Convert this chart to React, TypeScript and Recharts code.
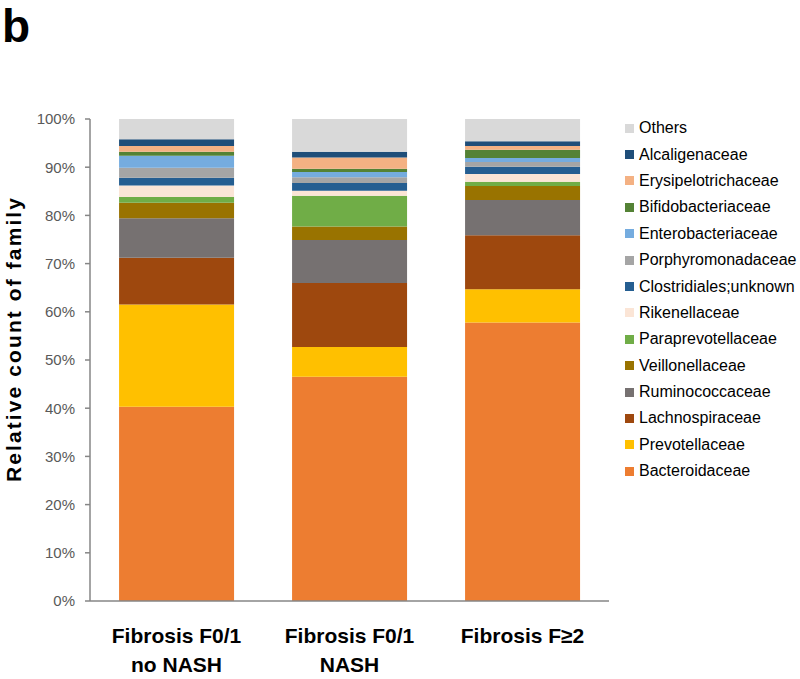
import { BarChart, Bar, XAxis, YAxis } from 'recharts';

/* -------------------------------------------------------------------------- */
/*  Data (percent of reads, bottom of stack first)                            */
/* -------------------------------------------------------------------------- */

const groups = ['Fibrosis F0/1\nno NASH', 'Fibrosis F0/1\nNASH', 'Fibrosis F≥2'];

const bacteroidaceae = [40.3, 46.5, 57.8];
const prevotellaceae = [21.2, 6.2, 6.9];
const lachnospiraceae = [9.7, 13.3, 11.2];
const ruminococcaceae = [8.2, 8.9, 7.3];
const veillonellaceae = [3.2, 2.8, 2.9];
const paraprevotellaceae = [1.2, 6.4, 0.9];
const rikenellaceae = [2.4, 1.0, 1.6];
const clostridialesUnknown = [1.6, 1.6, 1.5];
const porphyromonadaceae = [2.1, 1.2, 1.0];
const enterobacteriaceae = [2.5, 1.1, 0.8];
const bifidobacteriaceae = [0.8, 0.7, 1.7];
const erysipelotrichaceae = [1.2, 2.3, 0.8];
const alcaligenaceae = [1.4, 1.2, 1.0];
const others = [4.2, 6.8, 4.6];

const yTicks = [0, 10, 20, 30, 40, 50, 60, 70, 80, 90, 100];

const families: { name: string; values: number[]; color: string }[] = [
  { name: 'Bacteroidaceae', values: bacteroidaceae, color: '#ED7D31' },
  { name: 'Prevotellaceae', values: prevotellaceae, color: '#FFC000' },
  { name: 'Lachnospiraceae', values: lachnospiraceae, color: '#9E480E' },
  { name: 'Ruminococcaceae', values: ruminococcaceae, color: '#767171' },
  { name: 'Veillonellaceae', values: veillonellaceae, color: '#997300' },
  { name: 'Paraprevotellaceae', values: paraprevotellaceae, color: '#70AD47' },
  { name: 'Rikenellaceae', values: rikenellaceae, color: '#FBE5D6' },
  { name: 'Clostridiales;unknown', values: clostridialesUnknown, color: '#255E91' },
  { name: 'Porphyromonadaceae', values: porphyromonadaceae, color: '#A5A5A5' },
  { name: 'Enterobacteriaceae', values: enterobacteriaceae, color: '#75ACDF' },
  { name: 'Bifidobacteriaceae', values: bifidobacteriaceae, color: '#548235' },
  { name: 'Erysipelotrichaceae', values: erysipelotrichaceae, color: '#F4B183' },
  { name: 'Alcaligenaceae', values: alcaligenaceae, color: '#1F4E79' },
  { name: 'Others', values: others, color: '#D9D9D9' },
];

const data = groups.map((group, i) => {
  const row: Record<string, string | number> = { group };
  families.forEach((f) => {
    row[f.name] = f.values[i];
  });
  return row;
});

const FONT = '"Liberation Sans", Arial, sans-serif';

/* -------------------------------------------------------------------------- */
/*  Custom ticks                                                              */
/* -------------------------------------------------------------------------- */

function GroupTick({ x, y, payload }: { x?: number; y?: number; payload?: { value: string } }) {
  const lines = String(payload?.value ?? '').split('\n');
  return (
    <text
      x={x}
      y={y}
      textAnchor="middle"
      fontFamily={FONT}
      fontWeight="bold"
      fontSize={21}
      fill="#000"
    >
      {lines.map((line, i) => (
        <tspan key={i} x={x} y={(y ?? 0) + 34 + i * 29}>
          {line}
        </tspan>
      ))}
    </text>
  );
}

/* -------------------------------------------------------------------------- */
/*  Component                                                                 */
/* -------------------------------------------------------------------------- */

export default function App() {
  const legendItems = [...families].reverse();
  return (
    <div style={{ position: 'absolute', left: 0, top: 0, width: 800, height: 679, background: '#fff' }}>
      <svg width={80} height={80} style={{ position: 'absolute', left: 0, top: 0 }}>
        <text x={2} y={42} fontFamily={FONT} fontWeight="bold" fontSize={46} fill="#000">
          b
        </text>
      </svg>

      <BarChart
        width={800}
        height={679}
        data={data}
        margin={{ top: 119, right: 191, bottom: 18, left: 0 }}
        barCategoryGap="16.8%"
      >
        <XAxis
          dataKey="group"
          height={60}
          tickLine={false}
          axisLine={{ stroke: '#868686', strokeWidth: 1.5 }}
          tick={<GroupTick />}
          interval={0}
        />
        <YAxis
          width={90}
          domain={[0, 100]}
          ticks={yTicks}
          tickFormatter={(v: number) => `${v}%`}
          tickSize={5}
          tickMargin={10}
          axisLine={{ stroke: '#868686', strokeWidth: 1.5 }}
          tickLine={{ stroke: '#868686', strokeWidth: 1.5 }}
          tick={{ fill: '#595959', fontSize: 15, fontFamily: FONT }}
          label={{
            content: () => (
              <text
                x={21}
                y={340}
                transform="rotate(-90 21 340)"
                textAnchor="middle"
                fontFamily={FONT}
                fontWeight="bold"
                fontSize={21}
                textLength={284}
                lengthAdjust="spacing"
                fill="#000"
              >
                Relative count of family
              </text>
            ),
          }}
        />
        {families.map((f) => (
          <Bar
            key={f.name}
            dataKey={f.name}
            stackId="a"
            fill={f.color}
            stroke="none"
            isAnimationActive={false}
          />
        ))}
      </BarChart>

      <div style={{ position: 'absolute', left: 625, top: 115, fontFamily: FONT, fontSize: 16, color: '#000' }}>
        {legendItems.map((f) => (
          <div key={f.name} style={{ display: 'flex', alignItems: 'center', height: 26.4, whiteSpace: 'nowrap' }}>
            <span style={{ display: 'inline-block', width: 9, height: 9, background: f.color, marginRight: 5 }} />
            {f.name}
          </div>
        ))}
      </div>
    </div>
  );
}
